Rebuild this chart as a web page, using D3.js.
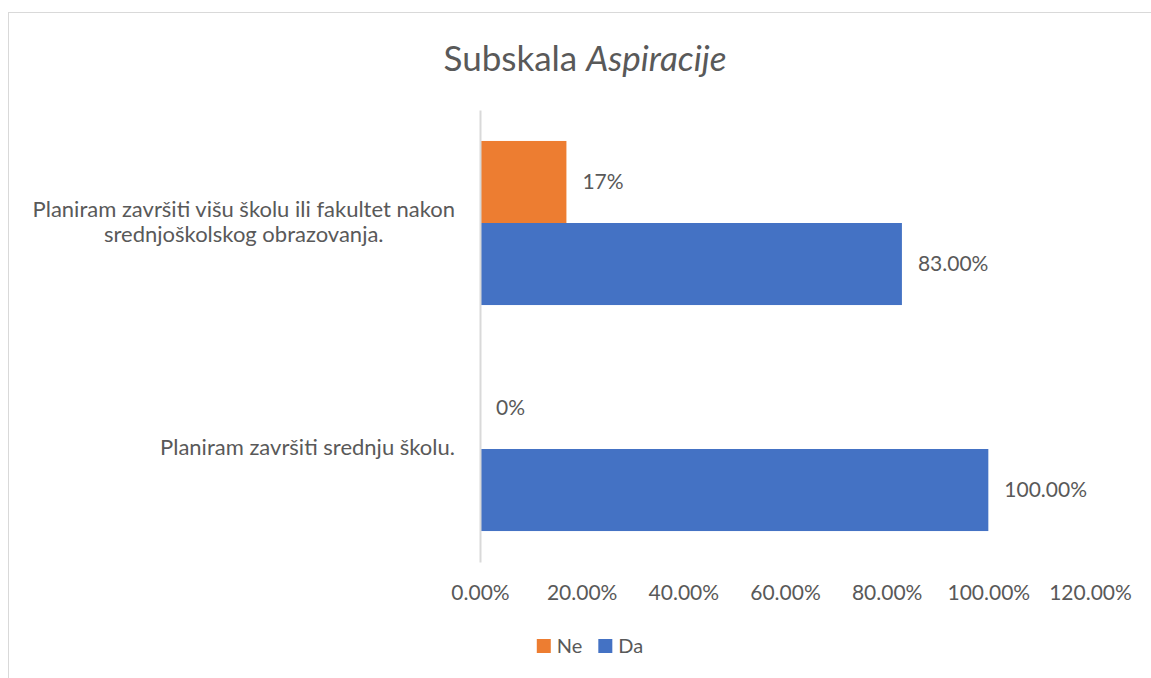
<!DOCTYPE html>
<html>
<head>
<meta charset="utf-8">
<script src="https://cdn.jsdelivr.net/npm/d3@7"></script>
<style>
  body { margin: 0; background: #fff; }
  text { font-family: Lato, "Open Sans", sans-serif; fill: #595959; }
</style>
</head>
<body>
<svg id="chart"></svg>
<script>
// chart data
var categories = [
  "Planiram završiti višu školu ili fakultet nakon srednjoškolskog obrazovanja.",
  "Planiram završiti srednju školu."
];
var seriesNames = ["Ne", "Da"];
var neValues = [0.17, 0];
var daValues = [0.83, 1.00];
var xTicks = [0, 0.2, 0.4, 0.6, 0.8, 1.0, 1.2];

var width = 1151, height = 678;
var colors = { Ne: "#ED7D31", Da: "#4472C4" };
var labelFormats = { Ne: d3.format(".0%"), Da: d3.format(".2%") };

var svg = d3.select("#chart").attr("width", width).attr("height", height);

// outer chart border
svg.append("rect")
  .attr("x", 8.5).attr("y", 12.5)
  .attr("width", 1150).attr("height", 680)
  .attr("fill", "none").attr("stroke", "#d9d9d9");

// title
var title = svg.append("text")
  .attr("x", 585).attr("y", 71)
  .attr("text-anchor", "middle")
  .style("font-size", "35px");
title.append("tspan").text("Subskala ");
title.append("tspan").style("font-style", "italic").text("Aspiracije");

var x = d3.scaleLinear().domain([0, 1.2]).range([480, 1090]);
var y = d3.scaleBand().domain(categories).range([110, 562])
  .paddingInner(0.274).paddingOuter(0.137);
var inner = d3.scaleBand().domain(seriesNames).range([0, y.bandwidth()]);

var rows = categories.map(function (c, i) {
  return { cat: c, Ne: neValues[i], Da: daValues[i] };
});

// bars
var groups = svg.selectAll(".cat")
  .data(rows)
  .enter().append("g")
  .attr("class", "cat")
  .attr("transform", function (d) { return "translate(0," + y(d.cat) + ")"; });

seriesNames.forEach(function (s) {
  groups.append("rect")
    .attr("x", x(0))
    .attr("y", inner(s))
    .attr("width", function (d) { return x(d[s]) - x(0); })
    .attr("height", inner.bandwidth())
    .attr("fill", colors[s]);
  groups.append("text")
    .attr("x", function (d) { return x(d[s]) + 16; })
    .attr("y", inner(s) + inner.bandwidth() / 2)
    .attr("dy", "0.35em")
    .style("font-size", "21px")
    .text(function (d) { return labelFormats[s](d[s]); });
});

// y axis with wrapped category labels
var yAxis = svg.append("g")
  .attr("transform", "translate(" + x(0) + ",0)")
  .call(d3.axisLeft(y).tickSize(0).tickPadding(25));
yAxis.select(".domain").attr("stroke", "#d9d9d9").attr("stroke-width", 2);
yAxis.selectAll("text")
  .attr("fill", "#595959")
  .style("font-size", "22px")
  .style("font-family", "Lato, 'Open Sans', sans-serif")
  .each(function (d) {
    var t = d3.select(this);
    var words = d.split(" ");
    var lines = [], line = [];
    t.text(null);
    var probe = t.append("tspan");
    words.forEach(function (w) {
      line.push(w);
      probe.text(line.join(" "));
      if (probe.node().getComputedTextLength() > 445 && line.length > 1) {
        line.pop();
        lines.push(line.join(" "));
        line = [w];
      }
    });
    lines.push(line.join(" "));
    probe.remove();
    var lh = 25, maxW = 0;
    lines.forEach(function (l, i) {
      var sp = t.append("tspan").text(l)
        .attr("y", 0)
        .attr("dy", ((i - (lines.length - 1) / 2) * lh + 6) + "px");
      maxW = Math.max(maxW, sp.node().getComputedTextLength());
    });
    t.attr("text-anchor", "middle").attr("dy", null);
    t.selectAll("tspan").attr("x", -25 - maxW / 2);
  });

// x axis
var xAxis = svg.append("g")
  .attr("transform", "translate(0,562)")
  .call(d3.axisBottom(x).tickValues(xTicks).tickSize(0).tickPadding(23)
    .tickFormat(d3.format(".2%")));
xAxis.select(".domain").remove();
xAxis.selectAll("text")
  .attr("fill", "#595959")
  .style("font-size", "21px")
  .style("font-family", "Lato, 'Open Sans', sans-serif");

// legend
var legend = svg.append("g");
var lx = 0;
seriesNames.forEach(function (s) {
  legend.append("rect")
    .attr("x", lx).attr("y", -7)
    .attr("width", 14).attr("height", 14)
    .attr("fill", colors[s]);
  var t = legend.append("text")
    .attr("x", lx + 20).attr("y", 0).attr("dy", "0.35em")
    .style("font-size", "20px")
    .text(s);
  lx += 20 + t.node().getComputedTextLength() + 16;
});
var legW = lx - 16;
legend.attr("transform", "translate(" + (590 - legW / 2) + ",646)");
</script>
</body>
</html>
